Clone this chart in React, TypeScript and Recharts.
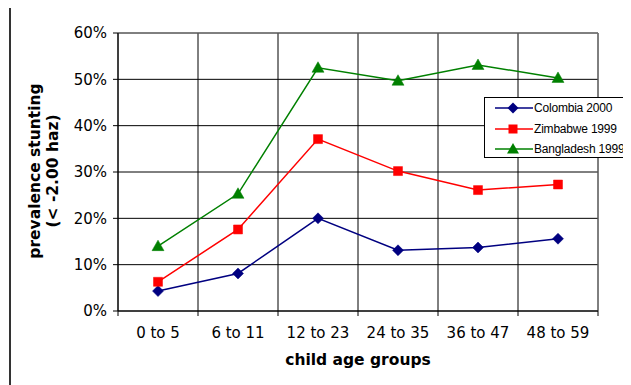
import { LineChart, Line, XAxis, YAxis, CartesianGrid, ReferenceLine, Legend, Label } from 'recharts'

const CATEGORIES = ['0 to 5', '6 to 11', '12 to 23', '24 to 35', '36 to 47', '48 to 59']
const COLOMBIA_2000 = [4.3, 8.1, 20.0, 13.1, 13.7, 15.6]
const ZIMBABWE_1999 = [6.3, 17.6, 37.1, 30.2, 26.1, 27.3]
const BANGLADESH_1999 = [14.0, 25.3, 52.5, 49.7, 53.1, 50.3]
const Y_TICKS = [0, 10, 20, 30, 40, 50, 60]
const X_BOUNDS = [0, 1, 2, 3, 4, 5, 6]

const W = 631
const H = 385
const MARGIN = { top: 33, right: 33, left: 10, bottom: 20 }
const PLOT_W = W - MARGIN.left - 108 - MARGIN.right
const HALF_BAND = PLOT_W / CATEGORIES.length / 2

const TICK_FONT = '"DejaVu Sans", Verdana, sans-serif'

const data = CATEGORIES.map((c, i) => ({
  x: i + 0.5,
  label: c,
  colombia: COLOMBIA_2000[i],
  zimbabwe: ZIMBABWE_1999[i],
  bangladesh: BANGLADESH_1999[i],
}))

type Marker = 'diamond' | 'square' | 'triangle'

const SERIES: { key: string; name: string; color: string; marker: Marker }[] = [
  { key: 'colombia', name: 'Colombia 2000', color: '#000080', marker: 'diamond' },
  { key: 'zimbabwe', name: 'Zimbabwe 1999', color: '#ff0000', marker: 'square' },
  { key: 'bangladesh', name: 'Bangladesh 1999', color: '#008000', marker: 'triangle' },
]

function markerPath(marker: Marker, cx: number, cy: number) {
  if (marker === 'diamond') return `M${cx},${cy - 5.5}L${cx + 5.5},${cy}L${cx},${cy + 5.5}L${cx - 5.5},${cy}Z`
  if (marker === 'square') return `M${cx - 4.5},${cy - 4.5}h9v9h-9Z`
  return `M${cx},${cy - 6}L${cx + 6},${cy + 4.5}L${cx - 6},${cy + 4.5}Z`
}

const makeDot = (marker: Marker, color: string) => (props: any) => (
  <path key={`${marker}-${props.index}`} d={markerPath(marker, props.cx, props.cy)} fill={color} stroke={color} strokeWidth={0.5} />
)

// category names sit between the boundary ticks
const CategoryTick = (props: any) => {
  const { x, y, payload } = props
  if (payload.value >= CATEGORIES.length) return <g />
  return (
    <text x={x + HALF_BAND} y={y} dy="0.71em" textAnchor="middle" fontFamily={TICK_FONT} fontSize={15} fill="#000">
      {CATEGORIES[payload.value]}
    </text>
  )
}

const YTitle = (props: any) => {
  const { viewBox } = props
  const cy = viewBox.y + viewBox.height / 2 - 1
  const x1 = viewBox.x + 25
  const x2 = viewBox.x + 43
  const style = { fontFamily: TICK_FONT, fontSize: 15.5, fontWeight: 700, fill: '#000' }
  return (
    <g>
      <text x={x1} y={cy} transform={`rotate(-90 ${x1} ${cy})`} textAnchor="middle" dominantBaseline="central" style={style}>
        prevalence stunting
      </text>
      <text x={x2} y={cy} transform={`rotate(-90 ${x2} ${cy})`} textAnchor="middle" dominantBaseline="central" style={style}>
        (&lt; -2.00 haz)
      </text>
    </g>
  )
}

const LegendBox = () => (
  <div
    style={{
      border: '1px solid #000',
      background: '#fff',
      width: 160,
      height: 59,
      boxSizing: 'content-box',
      fontFamily: '"Liberation Sans", Arial, sans-serif',
      fontSize: 12,
      letterSpacing: -0.2,
      color: '#000',
    }}
  >
    {SERIES.map((s) => (
      <div key={s.key} style={{ display: 'flex', alignItems: 'center', height: 20.5, paddingLeft: 10 }}>
        <svg width={38} height={14} style={{ marginRight: 1 }}>
          <line x1={0} y1={7} x2={38} y2={7} stroke={s.color} strokeWidth={1.5} />
          <path d={markerPath(s.marker, 18, 7)} fill={s.color} />
        </svg>
        <span>{s.name}</span>
      </div>
    ))}
  </div>
)

export default function App() {
  return (
    <div style={{ position: 'relative', width: W, height: H, margin: '-8px 0 0 -8px', overflow: 'hidden', background: '#fff' }}>
      <div style={{ position: 'absolute', left: 9, top: 4, right: -10, bottom: -10, borderTop: '2px solid #333', borderLeft: '2px solid #333' }} />
      <LineChart width={W} height={H} data={data} margin={MARGIN} style={{ position: 'absolute', left: 0, top: 0 }}>
        <CartesianGrid stroke="#000" strokeWidth={1} verticalValues={X_BOUNDS} horizontalValues={Y_TICKS} />
        <XAxis
          dataKey="x"
          type="number"
          domain={[0, 6]}
          ticks={X_BOUNDS}
          interval={0}
          height={54}
          axisLine={{ stroke: '#000' }}
          tickLine={{ stroke: '#000' }}
          tickSize={5}
          tickMargin={11}
          tick={<CategoryTick />}
        >
          <Label
            value="child age groups"
            position="insideBottom"
            offset={0}
            style={{ fontFamily: TICK_FONT, fontSize: 15.5, fontWeight: 700, fill: '#000' }}
          />
        </XAxis>
        <YAxis
          type="number"
          domain={[0, 60]}
          ticks={Y_TICKS}
          width={108}
          axisLine={{ stroke: '#000' }}
          tickLine={{ stroke: '#000' }}
          tickSize={5}
          tickMargin={6}
          tickFormatter={(v: number) => `${v}%`}
          tick={{ fontFamily: TICK_FONT, fontSize: 15, fill: '#000' }}
          label={<YTitle />}
        />
        <ReferenceLine y={60} stroke="#808080" />
        <ReferenceLine x={6} stroke="#808080" />
        {SERIES.map((s) => (
          <Line
            key={s.key}
            type="linear"
            dataKey={s.key}
            name={s.name}
            stroke={s.color}
            strokeWidth={1.5}
            dot={makeDot(s.marker, s.color)}
            activeDot={false}
            isAnimationActive={false}
          />
        ))}
        <Legend
          layout="vertical"
          align="center"
          verticalAlign="middle"
          content={<LegendBox />}
          wrapperStyle={{ left: 484, top: 97, width: 170, height: 61 }}
        />
      </LineChart>
    </div>
  )
}
